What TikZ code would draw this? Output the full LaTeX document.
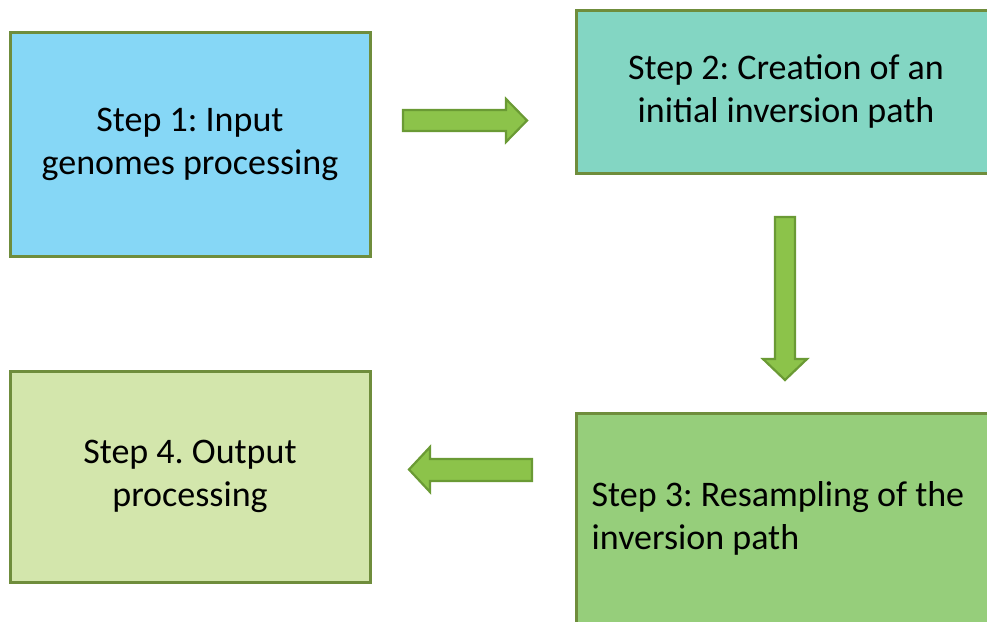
\documentclass[tikz,border=0pt]{standalone}
\usepackage{fontspec}
\setmainfont{Carlito}
\frenchspacing
\definecolor{edgegreen}{HTML}{6F8D3C}
\definecolor{fillblue}{HTML}{86D7F6}
\definecolor{fillteal}{HTML}{83D6C3}
\definecolor{fillgreen}{HTML}{96CE7B}
\definecolor{filllime}{HTML}{D3E6AC}
\definecolor{arrowfill}{HTML}{8CC34A}
\definecolor{arrowedge}{HTML}{6A9A34}
\tikzset{
  stepbox/.style={draw=edgegreen, line width=3pt, rectangle, inner sep=0pt,
    font=\fontsize{36}{43}\selectfont, align=center},
  steptext/.style={inner sep=0pt, font=\fontsize{36}{43}\selectfont, align=left},
  blockarrow/.style={draw=arrowedge, fill=arrowfill, line width=2.2pt, line join=miter}
}
\begin{document}
\begin{tikzpicture}[x=1pt, y=-1pt]
  \useasboundingbox (0,0) rectangle (987,621);
  \clip (0,0) rectangle (987,621);

  % process steps
  \node[stepbox, fill=fillblue, minimum width=360pt, minimum height=224pt]
    (s1) at (190,144) {Step 1: Input\\genomes processing};
  \node[stepbox, fill=fillteal, minimum width=420pt, minimum height=163pt]
    (s2) at (786,91.5) {Step 2: Creation of an\\initial inversion path};
  \node[stepbox, fill=fillgreen, minimum width=420pt, minimum height=210pt]
    (s3) at (786,518) {};
  \node[steptext, anchor=west] (s3text) at ([xshift=17pt]s3.west)
    {Step 3: Resampling of the\\inversion path};
  \node[stepbox, fill=filllime, minimum width=360pt, minimum height=211pt]
    (s4) at (190,476.5) {Step 4. Output\\processing};

  % block arrows between the steps
  \draw[blockarrow] (403,110) -- (506,110) -- (506,99) -- (527,120.5)
    -- (506,142) -- (506,131) -- (403,131) -- cycle;
  \draw[blockarrow] (775,217) -- (795,217) -- (795,359) -- (807,359)
    -- (785,380) -- (763,359) -- (775,359) -- cycle;
  \draw[blockarrow] (532,459) -- (430,459) -- (430,447) -- (409,469.5)
    -- (430,492) -- (430,481) -- (532,481) -- cycle;
\end{tikzpicture}
\end{document}
